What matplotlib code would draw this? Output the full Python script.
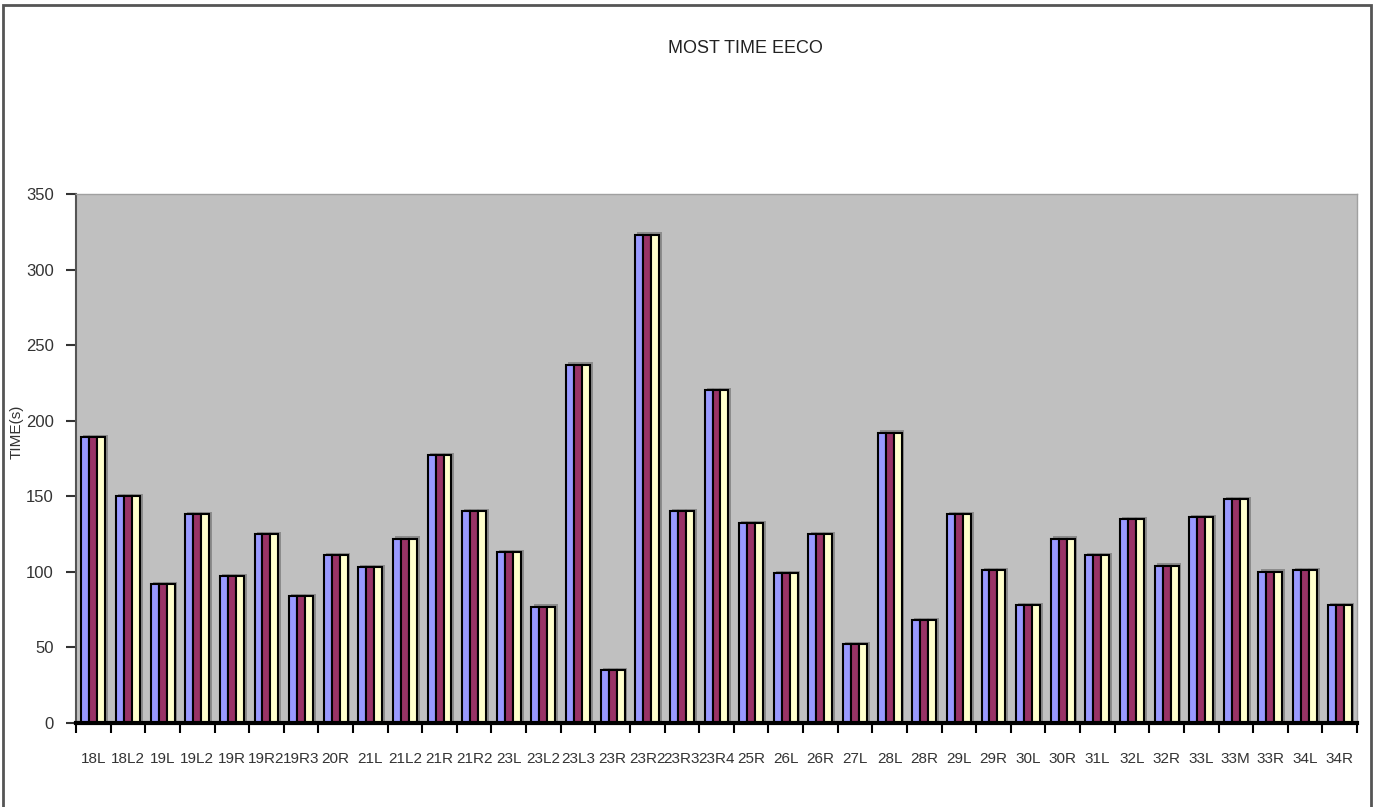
import matplotlib.pyplot as plt
import numpy as np
from matplotlib.patches import Rectangle

plt.rcParams['font.family'] = ['Liberation Sans', 'DejaVu Sans']

# runway / approach labels along the x axis
labels = ['18L', '18L2', '19L', '19L2', '19R', '19R2', '19R3', '20R', '21L', '21L2',
          '21R', '21R2', '23L', '23L2', '23L3', '23R', '23R2', '23R3', '23R4', '25R',
          '26L', '26R', '27L', '28L', '28R', '29L', '29R', '30L', '30R', '31L',
          '32L', '32R', '33L', '33M', '33R', '34L', '34R']

# the three series look identical in the picture
series_1 = [189, 150, 92, 138, 97, 125, 84, 111, 103, 122,
            177, 140, 113, 77, 237, 35, 323, 140, 220, 132,
            99, 125, 52, 192, 68, 138, 101, 78, 122, 111,
            135, 104, 136, 148, 100, 101, 78]
series_2 = list(series_1)
series_3 = list(series_1)

colors = ['#9999FF', '#993366', '#FFFFCC']
yticks = [0, 50, 100, 150, 200, 250, 300, 350]

fig = plt.figure(figsize=(13.75, 8.07), dpi=100)
ax = fig.add_axes([0.0553, 0.1041, 0.9316, 0.6555])
ax.set_facecolor('#C0C0C0')

x = np.arange(len(labels))
w = 0.23

# drop shadow behind each group
for xi, v in zip(x, series_1):
    ax.add_patch(Rectangle((xi - 1.5 * w + 0.06, 0), 3 * w + 0.02, v + 1.6,
                           facecolor='#8c8c8c', edgecolor='none', zorder=1))

for k, s in enumerate([series_1, series_2, series_3]):
    ax.bar(x + (k - 1) * w, s, width=w, color=colors[k], edgecolor='black',
           linewidth=1.5, zorder=2)

ax.set_xlim(-0.5, len(labels) - 0.5)
ax.set_ylim(0, 350)
ax.set_yticks(yticks)
ax.set_yticklabels([str(t) for t in yticks], fontsize=12, color='#333333')
ax.set_xticks(x)
ax.set_xticklabels(labels, fontsize=11, color='#333333')
ax.set_xticks(np.arange(len(labels) + 1) - 0.5, minor=True)
ax.tick_params(axis='x', which='major', length=0, pad=21)
ax.tick_params(axis='x', which='minor', length=7, width=1.5, color='black')
ax.tick_params(axis='y', length=7, width=1.5, color='#333333', pad=9)

for side in ['top', 'right']:
    ax.spines[side].set_color('#a0a0a0')
    ax.spines[side].set_linewidth(1)
ax.spines['left'].set_color('#555555')
ax.spines['left'].set_linewidth(1.5)
ax.spines['bottom'].set_color('black')
ax.spines['bottom'].set_linewidth(3)
ax.spines['bottom'].set_zorder(5)

ax.set_ylabel('TIME(s)', fontsize=11, color='#333333')
ax.yaxis.set_label_coords(-0.041, 0.55)

fig.text(0.542, 0.94, 'MOST TIME EECO', ha='center', va='center',
         fontsize=13, color='#222222')

fig.patches.append(Rectangle((0.002, -0.01), 0.995, 1.004, transform=fig.transFigure,
                             fill=False, edgecolor='#555555', linewidth=2))

fig.savefig('out.png', dpi=100)
